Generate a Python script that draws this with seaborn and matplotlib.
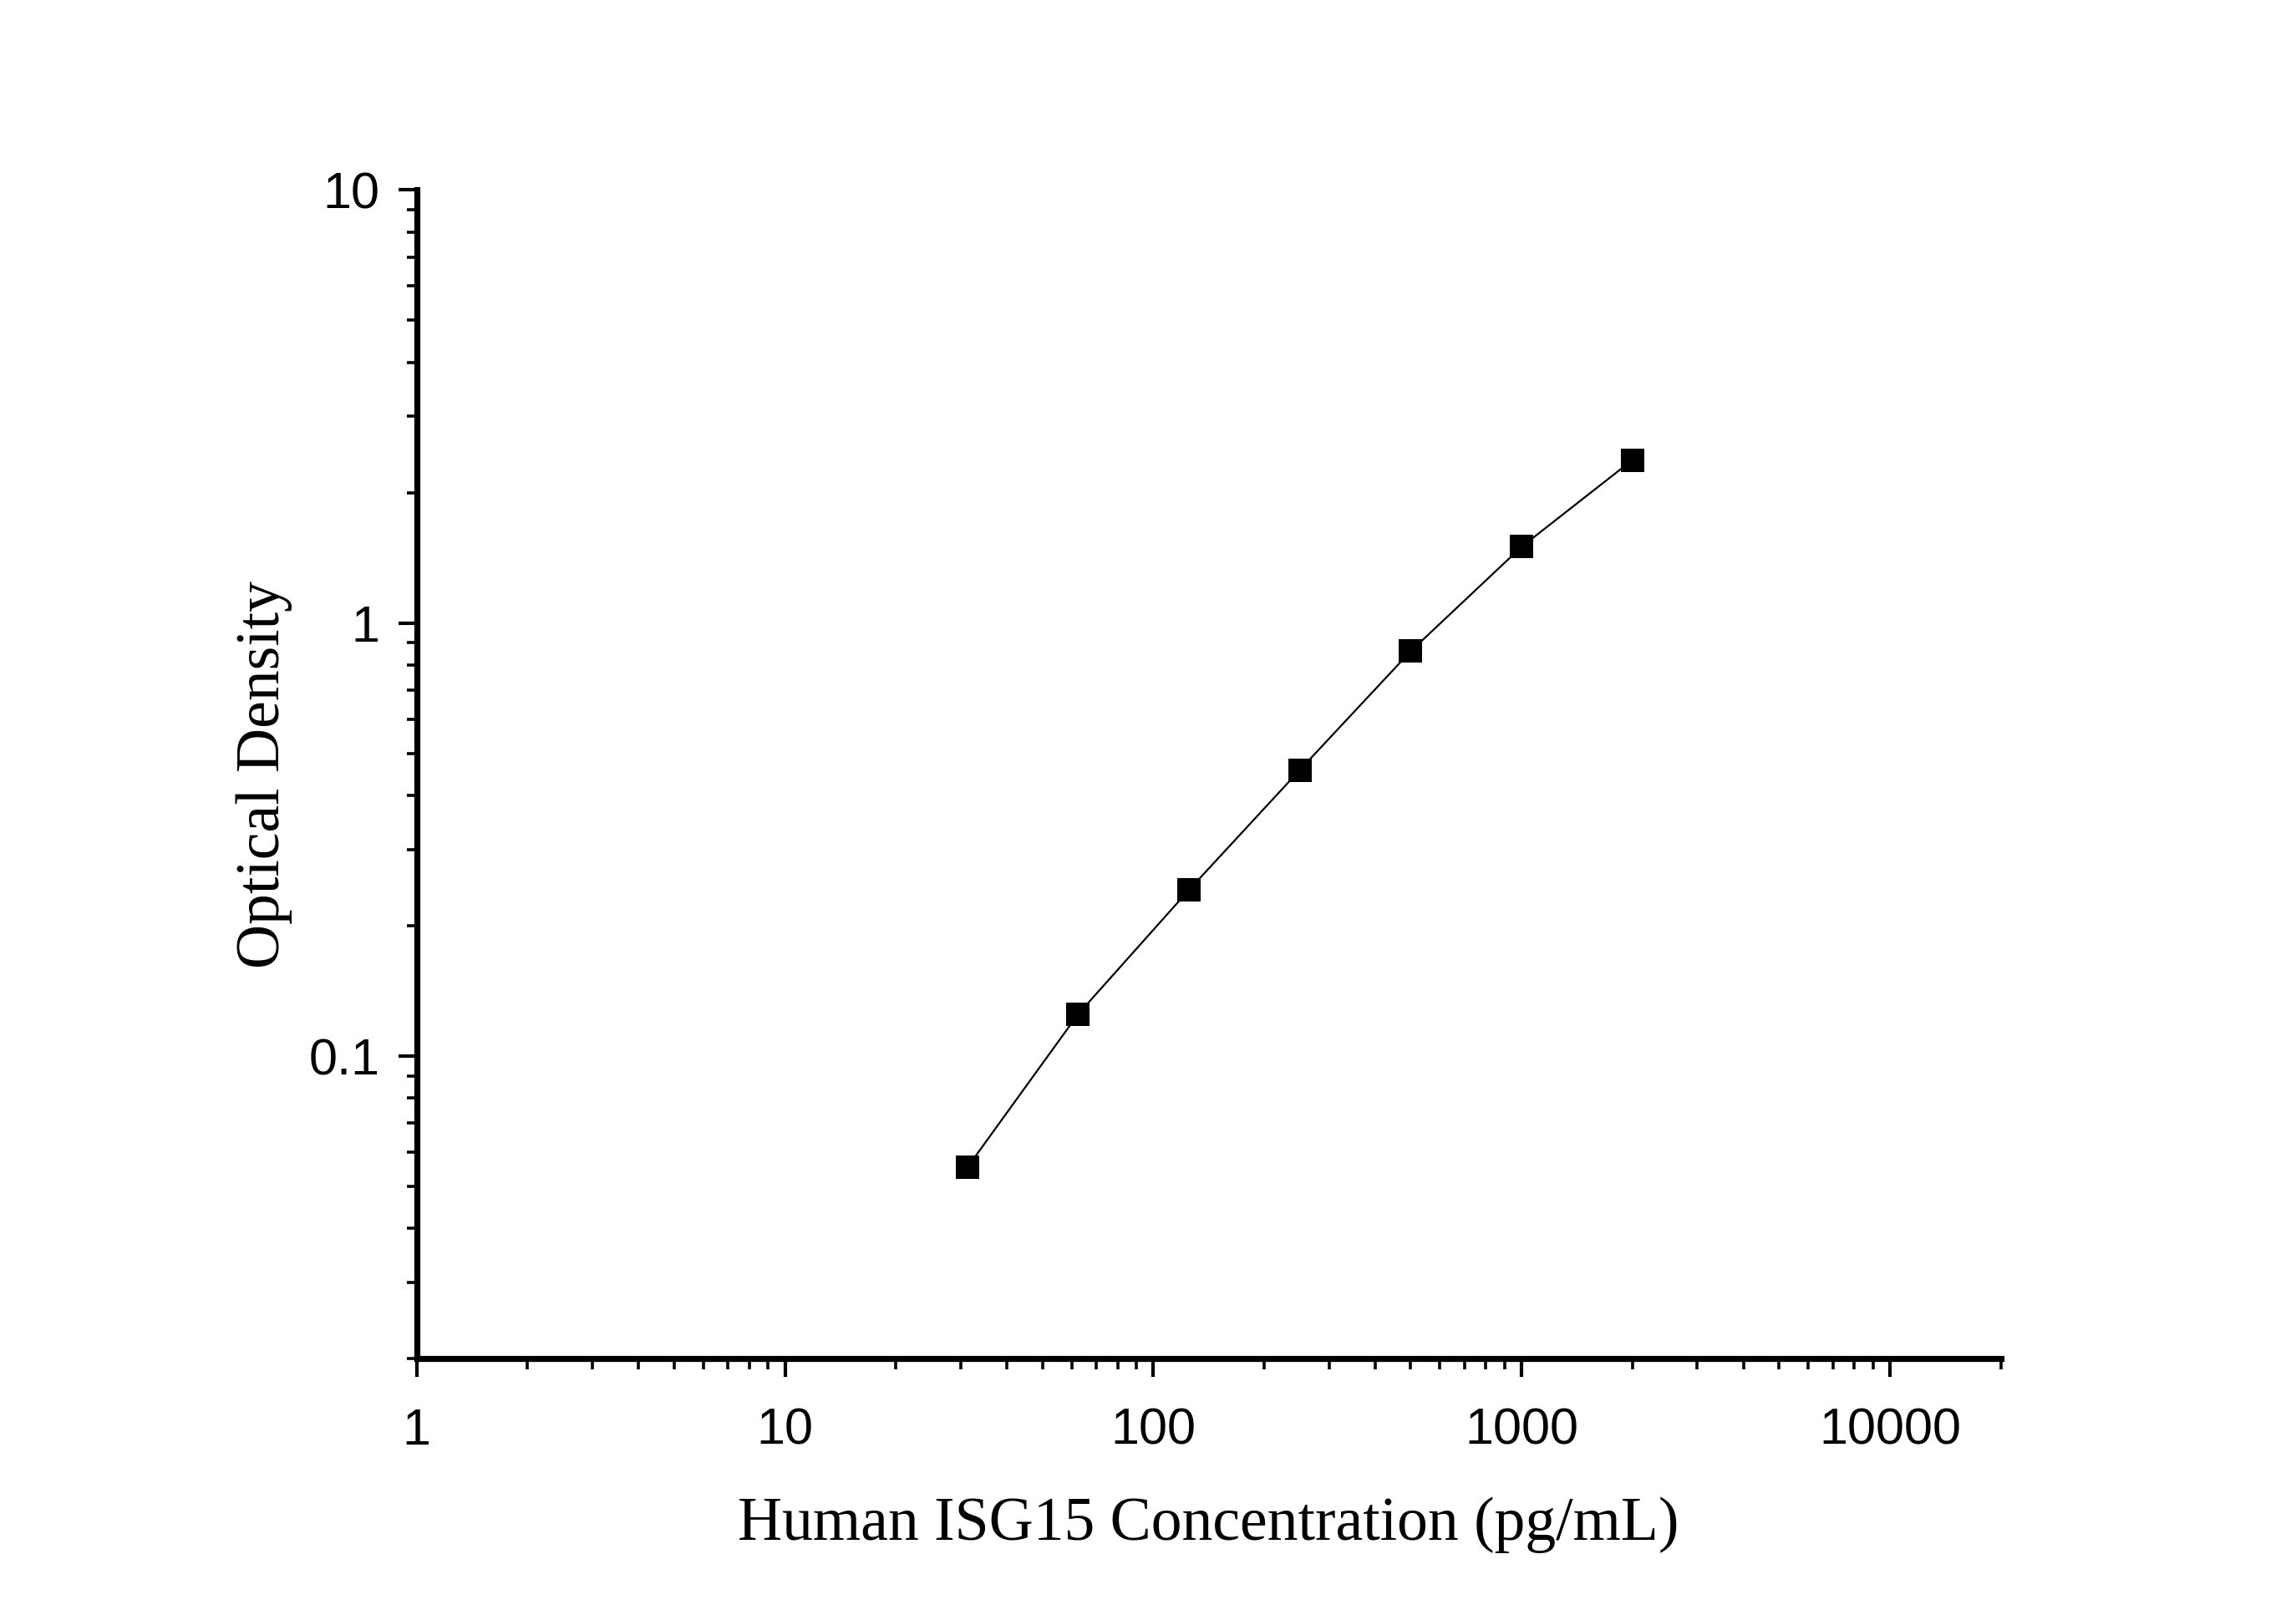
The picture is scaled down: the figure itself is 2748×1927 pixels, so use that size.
import numpy as np
import pandas as pd
import seaborn as sns
import matplotlib.pyplot as plt
from matplotlib.ticker import LogLocator, FixedLocator, FixedFormatter, NullFormatter

# Standard curve data
concentration = [31.25, 62.5, 125, 250, 500, 1000, 2000]
optical_density = [0.0553, 0.125, 0.242, 0.458, 0.861, 1.50, 2.38]

x_ticks = [1, 10, 100, 1000, 10000]
x_tick_labels = ['1', '10', '100', '1000', '10000']
y_ticks = [0.1, 1, 10]
y_tick_labels = ['0.1', '1', '10']

df = pd.DataFrame({'conc': concentration, 'od': optical_density})

sns.set_style('ticks')
plt.rcParams['font.family'] = ['Liberation Sans', 'DejaVu Sans']
plt.rcParams['text.color'] = 'black'
plt.rcParams['axes.labelcolor'] = 'black'
plt.rcParams['xtick.color'] = 'black'
plt.rcParams['ytick.color'] = 'black'

fig = plt.figure(figsize=(13.74, 9.635), dpi=200)
ax = fig.add_axes([0.1815, 0.156, 0.6899, 0.726])

sns.lineplot(data=df, x='conc', y='od', ax=ax, color='black', linewidth=0.8)
sns.scatterplot(data=df, x='conc', y='od', ax=ax, marker='s', s=105,
                color='black', edgecolor='black', linewidth=0, zorder=3)

ax.set_xscale('log')
ax.set_yscale('log')
ax.set_xlim(1, 20000)
ax.set_ylim(0.02, 10)

ax.xaxis.set_major_locator(FixedLocator(x_ticks))
ax.xaxis.set_major_formatter(FixedFormatter(x_tick_labels))
ax.xaxis.set_minor_locator(LogLocator(base=10, subs=np.arange(2, 10)))
ax.xaxis.set_minor_formatter(NullFormatter())
ax.yaxis.set_major_locator(FixedLocator(y_ticks))
ax.yaxis.set_major_formatter(FixedFormatter(y_tick_labels))
ax.yaxis.set_minor_locator(LogLocator(base=10, subs=np.arange(2, 10)))
ax.yaxis.set_minor_formatter(NullFormatter())

for side in ['top', 'right']:
    ax.spines[side].set_visible(False)
for side in ['left', 'bottom']:
    ax.spines[side].set_linewidth(2.6)
    ax.spines[side].set_color('black')

ax.tick_params(which='major', direction='out', length=8, width=1.5,
               labelsize=22, colors='black')
ax.tick_params(axis='x', which='major', pad=13)
ax.tick_params(axis='y', which='major', pad=8)
ax.tick_params(which='minor', direction='out', length=4.5, width=1.3, colors='black')

ax.set_xlabel('Human ISG15 Concentration (pg/mL)', family=['Liberation Serif', 'DejaVu Serif'],
              fontsize=26.5, labelpad=18, color='black')
ax.set_ylabel('Optical Density', family=['Liberation Serif', 'DejaVu Serif'],
              fontsize=26.5, labelpad=7, color='black')

fig.savefig('out.png', dpi=200, facecolor='white')
